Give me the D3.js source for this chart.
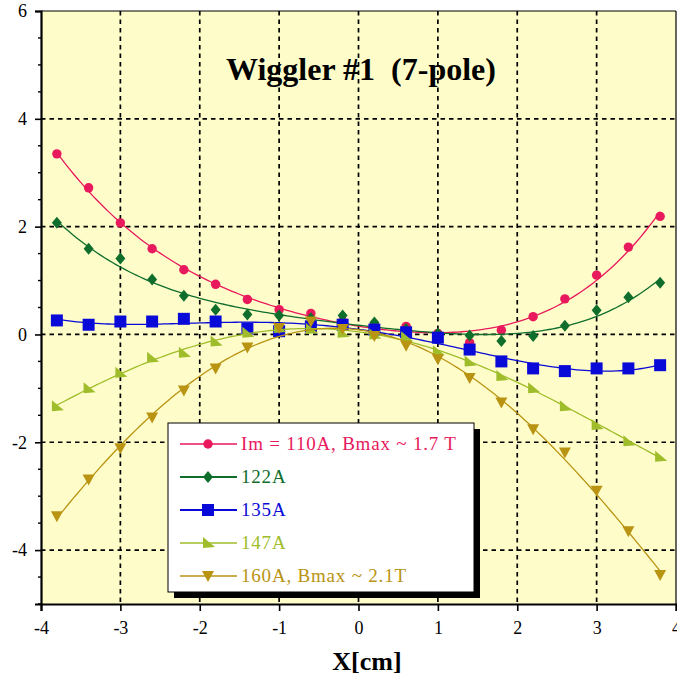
<!DOCTYPE html>
<html><head><meta charset="utf-8">
<script src="https://cdn.jsdelivr.net/npm/d3@7"></script>
<style>
html,body{margin:0;padding:0;background:#fff;}
svg{display:block;}
text{font-family:"Liberation Serif","Times New Roman",serif;}
</style></head>
<body>
<div id="chart"></div>
<script>
// ---- data ----
const xValues = [-3.8,-3.4,-3.0,-2.6,-2.2,-1.8,-1.4,-1.0,-0.6,-0.2,0.2,0.6,1.0,1.4,1.8,2.2,2.6,3.0,3.4,3.8];
const s110 = [3.35,2.72,2.07,1.59,1.20,0.93,0.65,0.46,0.39,0.25,0.18,0.15,0.02,-0.15,0.08,0.33,0.66,1.10,1.62,2.19];
const s122 = [2.07,1.59,1.41,1.02,0.72,0.46,0.37,0.35,0.30,0.35,0.22,0.10,0.02,-0.02,-0.12,-0.03,0.16,0.45,0.69,0.96];
const s135 = [0.26,0.18,0.24,0.24,0.29,0.24,0.11,0.06,0.15,0.18,0.09,0.04,-0.06,-0.28,-0.50,-0.63,-0.68,-0.63,-0.63,-0.57];
const s147 = [-1.33,-1.00,-0.71,-0.43,-0.34,-0.13,0.03,0.12,0.10,0.03,0.00,-0.05,-0.31,-0.50,-0.77,-1.00,-1.33,-1.68,-1.98,-2.27];
const s160 = [-3.37,-2.69,-2.11,-1.54,-1.04,-0.63,-0.24,0.12,0.24,0.10,-0.03,-0.21,-0.46,-0.81,-1.26,-1.76,-2.19,-2.90,-3.65,-4.46];
const seriesLabels = ["Im = 110A, Bmax ~ 1.7 T","122A","135A","147A","160A, Bmax ~ 2.1T"];
const seriesColors = ["#e8195c","#0f6e2c","#0a0ad8","#9fbd2a","#b99312"];
const seriesShapes = ["circle","diamond","square","tri","down"];
const xTicks = [-4,-3,-2,-1,0,1,2,3,4];
const yTicks = [-4,-2,0,2,4,6];
const xGrid = [-3,-2,-1,0,1,2,3];
const yGrid = [-4,-2,0,2,4];
const titleText = "Wiggler #1\u00a0\u00a0(7-pole)";
const xTitle = "X[cm]";

const allSeries = [s110,s122,s135,s147,s160];

const W = 677, H = 678;
const L = 41, R = 676, T = 11, B = 604;
const svg = d3.select("#chart").append("svg").attr("width",W).attr("height",H);
const x = d3.scaleLinear().domain([-4,4]).range([L,R]);
const y = d3.scaleLinear().domain([-5,6]).range([B,T]);

// plot background
svg.append("rect").attr("x",L).attr("y",T).attr("width",R-L).attr("height",B-T).attr("fill","#fefdc9");

// grid
const g = svg.append("g");
g.selectAll(".vg").data(xGrid).enter().append("line")
  .attr("x1",d=>x(d)).attr("x2",d=>x(d)).attr("y1",T).attr("y2",B)
  .attr("stroke","#000").attr("stroke-width",1.7).attr("stroke-dasharray","4.5,4");
g.selectAll(".hg").data(yGrid).enter().append("line")
  .attr("x1",L).attr("x2",R).attr("y1",d=>y(d)).attr("y2",d=>y(d))
  .attr("stroke","#000").attr("stroke-width",1.7).attr("stroke-dasharray","4.5,4");

// frame top/right
svg.append("line").attr("x1",L).attr("x2",R).attr("y1",T).attr("y2",T).attr("stroke","#000").attr("stroke-width",1.2);
svg.append("line").attr("x1",R).attr("x2",R).attr("y1",T).attr("y2",B).attr("stroke","#000").attr("stroke-width",1.2);

// polynomial least squares fit (trendline)
function polyfit(xs, ys, deg){
  const n = deg+1;
  const A = Array.from({length:n},()=>new Array(n+1).fill(0));
  for(let i=0;i<xs.length;i++){
    for(let r=0;r<n;r++){
      for(let c=0;c<n;c++) A[r][c]+=Math.pow(xs[i],r+c);
      A[r][n]+=ys[i]*Math.pow(xs[i],r);
    }
  }
  for(let i=0;i<n;i++){
    let p=i; for(let k=i+1;k<n;k++) if(Math.abs(A[k][i])>Math.abs(A[p][i])) p=k;
    [A[i],A[p]]=[A[p],A[i]];
    for(let k=i+1;k<n;k++){const f=A[k][i]/A[i][i]; for(let c=i;c<=n;c++) A[k][c]-=f*A[i][c];}
  }
  const coef=new Array(n).fill(0);
  for(let i=n-1;i>=0;i--){let s=A[i][n]; for(let c=i+1;c<n;c++) s-=A[i][c]*coef[c]; coef[i]=s/A[i][i];}
  return v=>coef.reduce((a,c,i)=>a+c*Math.pow(v,i),0);
}

function markerPath(shape){
  switch(shape){
    case "circle": return d3.symbol(d3.symbolCircle,70)();
    case "diamond": return "M0,-6L5,0L0,6L-5,0Z";
    case "square": return "M-6,-6H6V6H-6Z";
    case "tri": return "M-5,-6L7,4L-5,5Z";
    case "down": return "M-6,-5L6,-5L0,6Z";
  }
}

const line = d3.line().x(d=>x(d[0])).y(d=>y(d[1]));
const plot = svg.append("g");
allSeries.forEach((s,i)=>{
  const f = polyfit(xValues, s, 4);
  const pts = d3.range(-3.8,3.8001,0.05).map(v=>[v,f(v)]);
  plot.append("path").datum(pts).attr("d",line).attr("fill","none")
    .attr("stroke",seriesColors[i]).attr("stroke-width",1.3);
  plot.selectAll(".m"+i).data(xValues.map((v,j)=>[v,s[j]])).enter().append("path")
    .attr("transform",d=>`translate(${x(d[0])},${y(d[1])})`)
    .attr("d",markerPath(seriesShapes[i])).attr("fill",seriesColors[i]);
});

// axes
const fmt = d => String(d);
const xAxis = d3.axisBottom(x).tickValues(xTicks).tickSize(7).tickPadding(10).tickFormat(fmt);
const xg = svg.append("g").attr("transform",`translate(0,${B})`).call(xAxis);
xg.select(".domain").attr("stroke-width",2.2);
xg.selectAll(".tick line").attr("stroke-width",1.6);
xg.selectAll("text").attr("font-size",18).attr("font-family","Liberation Serif").attr("fill","#000");

const yAxis = d3.axisLeft(y).tickValues(yTicks).tickSize(6).tickPadding(8).tickFormat(fmt);
const yg = svg.append("g").attr("transform",`translate(${L},0)`).call(yAxis);
yg.select(".domain").attr("stroke-width",2.2);
yg.selectAll(".tick line").attr("stroke-width",1.6);
yg.selectAll("text").attr("font-size",18).attr("font-family","Liberation Serif").attr("fill","#000");
// minor y ticks
const minor = d3.range(-5,6.01,0.5).filter(v=>!yTicks.includes(v));
svg.append("g").selectAll("line").data(minor).enter().append("line")
  .attr("x1",L-3).attr("x2",L).attr("y1",d=>y(d)).attr("y2",d=>y(d))
  .attr("stroke","#000").attr("stroke-width",1.4);

// title
svg.append("text").attr("x",361).attr("y",80).attr("text-anchor","middle")
  .attr("font-size",32).attr("font-weight","bold").text(titleText);
// x title
svg.append("text").attr("x",367).attr("y",670).attr("text-anchor","middle")
  .attr("font-size",26).attr("font-weight","bold").text(xTitle);

// legend
const lg = svg.append("g");
const lx=168, ly=423, lw=306, lh=169;
lg.append("rect").attr("x",lx+6).attr("y",ly+6).attr("width",lw).attr("height",lh).attr("fill","#000");
lg.append("rect").attr("x",lx).attr("y",ly).attr("width",lw).attr("height",lh).attr("fill","#fff").attr("stroke","#000").attr("stroke-width",1);
seriesLabels.forEach((lab,i)=>{
  const cy = ly+21+i*33;
  lg.append("line").attr("x1",lx+12).attr("x2",lx+69).attr("y1",cy).attr("y2",cy)
    .attr("stroke",seriesColors[i]).attr("stroke-width",i===1||i===2?2.2:1.3);
  lg.append("path").attr("transform",`translate(${lx+40},${cy})`).attr("d",markerPath(seriesShapes[i])).attr("fill",seriesColors[i]);
  lg.append("text").attr("x",lx+73).attr("y",cy+6).attr("font-size",19).attr("letter-spacing",0.8).attr("fill",seriesColors[i]).text(lab);
});
</script>
</body></html>
